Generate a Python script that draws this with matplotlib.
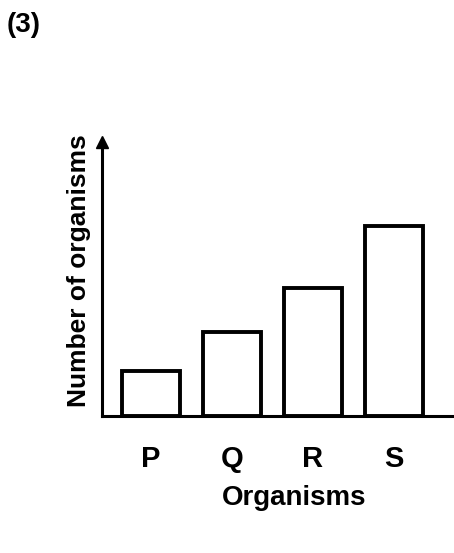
import numpy as np
import matplotlib.pyplot as plt

plt.rcParams['font.family'] = ['Liberation Sans', 'DejaVu Sans']
plt.rcParams['font.weight'] = 'bold'

# Bar data (arbitrary units, no scale shown)
organisms = ["P", "Q", "R", "S"]
counts = [1.0, 1.87, 2.85, 4.22]

fig = plt.figure(figsize=(4.54, 5.53), dpi=100)
ax = fig.add_axes([0.2247, 0.2477, 0.7753, 0.4960])

x = np.arange(len(organisms))
ax.bar(x, counts, width=0.716, color="white", edgecolor="black", linewidth=2.8)

# Axes look: only left and bottom lines, arrow on the y axis
ax.set_xlim(-0.605, 3.74)
ax.set_ylim(0, 6.1)
for side in ["top", "right"]:
    ax.spines[side].set_visible(False)
ax.spines["left"].set_linewidth(2.2)
ax.spines["bottom"].set_linewidth(2.2)
ax.plot(0, 1, marker="^", color="black", markersize=8,
        transform=ax.transAxes, clip_on=False)

ax.set_yticks([])
ax.set_xticks(x)
ax.set_xticklabels(organisms, fontsize=21, fontweight="bold")
ax.tick_params(axis="x", length=0, pad=21)

ax.set_xlabel("Organisms", fontsize=20, fontweight="bold")
ax.xaxis.set_label_coords(0.545, -0.25)
ax.set_ylabel("Number of organisms", fontsize=19, fontweight="bold")
ax.yaxis.set_label_coords(-0.03, 0.53)

fig.text(0.015, 0.955, "(3)", fontsize=20, fontweight="bold", va="center", ha="left")

plt.savefig("out.png", dpi=100)
